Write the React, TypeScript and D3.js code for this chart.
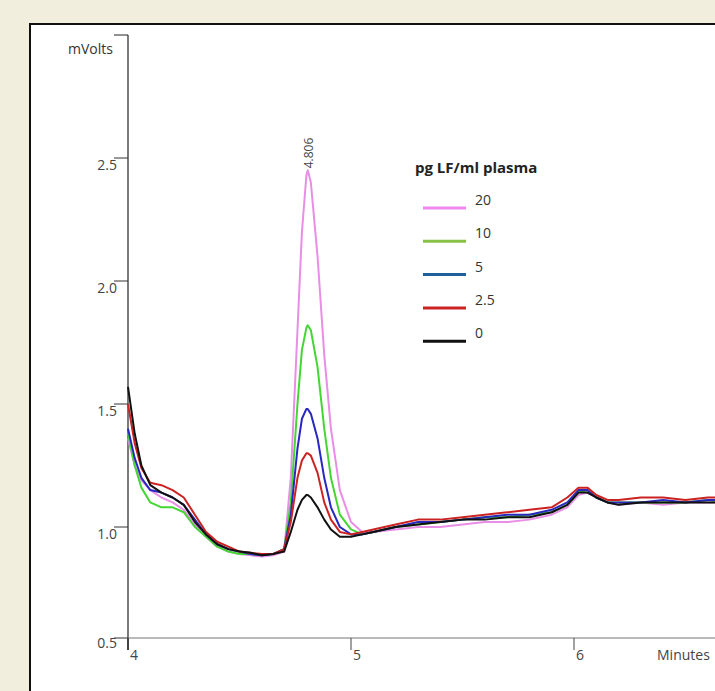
import * as d3 from 'd3';

// Chromatogram traces (minutes vs mVolts)
const times = [4.0, 4.03, 4.06, 4.1, 4.15, 4.2, 4.25, 4.3, 4.35, 4.4, 4.45, 4.5, 4.55, 4.6, 4.65, 4.7, 4.73, 4.76, 4.78, 4.8, 4.806, 4.82, 4.85, 4.88, 4.91, 4.95, 5.0, 5.05, 5.1, 5.2, 5.3, 5.4, 5.5, 5.6, 5.7, 5.8, 5.9, 5.97, 6.02, 6.06, 6.1, 6.15, 6.2, 6.3, 6.4, 6.5, 6.6, 6.7];

const pink20 = [1.36, 1.25, 1.19, 1.15, 1.12, 1.1, 1.07, 1.01, 0.96, 0.92, 0.9, 0.89, 0.885, 0.88, 0.885, 0.9, 1.2, 1.8, 2.2, 2.43, 2.45, 2.4, 2.1, 1.7, 1.4, 1.15, 1.02, 0.98, 0.98, 0.99, 1.0, 1.0, 1.01, 1.02, 1.02, 1.03, 1.05, 1.08, 1.13, 1.14, 1.12, 1.1, 1.09, 1.1, 1.09, 1.1, 1.1, 1.1];
const green10 = [1.38, 1.25, 1.16, 1.1, 1.08, 1.08, 1.06, 1.0, 0.96, 0.92, 0.9, 0.89, 0.89, 0.885, 0.89, 0.91, 1.1, 1.5, 1.72, 1.81, 1.82, 1.8, 1.65, 1.4, 1.2, 1.05, 0.99, 0.97, 0.98, 1.0, 1.01, 1.02, 1.03, 1.04, 1.04, 1.05, 1.06, 1.09, 1.14, 1.15, 1.12, 1.1, 1.1, 1.1, 1.1, 1.1, 1.11, 1.1];
const blue5 = [1.4, 1.28, 1.2, 1.15, 1.14, 1.12, 1.09, 1.03, 0.97, 0.93, 0.91, 0.9, 0.89, 0.885, 0.89, 0.91, 1.05, 1.32, 1.44, 1.48, 1.48, 1.46, 1.36, 1.2, 1.08, 1.0, 0.97, 0.97, 0.98, 1.0, 1.02, 1.02, 1.03, 1.04, 1.05, 1.05, 1.07, 1.1, 1.15, 1.15, 1.12, 1.1, 1.1, 1.1, 1.11, 1.1, 1.11, 1.11];
const red25 = [1.5, 1.34, 1.24, 1.18, 1.17, 1.15, 1.12, 1.05, 0.98, 0.94, 0.92, 0.9, 0.895, 0.89, 0.89, 0.91, 1.02, 1.2, 1.27, 1.3, 1.3, 1.29, 1.22, 1.1, 1.03, 0.98, 0.97, 0.98, 0.99, 1.01, 1.03, 1.03, 1.04, 1.05, 1.06, 1.07, 1.08, 1.12, 1.16, 1.16, 1.13, 1.11, 1.11, 1.12, 1.12, 1.11, 1.12, 1.12];
const black0 = [1.57, 1.38, 1.25, 1.17, 1.14, 1.12, 1.09, 1.02, 0.97, 0.93, 0.91, 0.9, 0.895, 0.885, 0.89, 0.9, 0.98, 1.07, 1.11, 1.13, 1.13, 1.12, 1.08, 1.03, 0.99, 0.96, 0.96, 0.97, 0.98, 1.0, 1.01, 1.02, 1.03, 1.03, 1.04, 1.04, 1.06, 1.09, 1.14, 1.14, 1.12, 1.1, 1.09, 1.1, 1.1, 1.1, 1.1, 1.1];

const seriesLabels = ['20', '10', '5', '2.5', '0'];
const seriesValues = [pink20, green10, blue5, red25, black0];
const lineColors = ['#e88ee6', '#44d633', '#2828c0', '#cc2222', '#111111'];
const legendColors = ['#ee88ee', '#88c048', '#1f5f9a', '#cc2222', '#111111'];
const yTicks = [1.0, 1.5, 2.0, 2.5];
const xTicks = [4, 5, 6];

const font = "'Open Sans', 'Liberation Sans', sans-serif";

export default function App() {
  const x = d3.scaleLinear().domain([4, 5]).range([128, 351]);
  const y = d3.scaleLinear().domain([1.0, 2.5]).range([527, 158]);
  const axisY = 638;
  const line = d3.line<number>().x((_, i) => x(times[i])).y(d => y(d));
  const drawOrder = [0, 1, 2, 3, 4];

  return (
    <svg width={715} height={691} style={{ position: 'absolute', left: 0, top: 0, fontFamily: font }}>
      <rect x={0} y={0} width={715} height={691} fill="#f2eedd" />
      <rect x={30} y={24} width={700} height={690} fill="#fff" stroke="#111" strokeWidth={2} />
      {/* axes */}
      <line x1={128} x2={128} y1={35} y2={axisY} stroke="#222" strokeWidth={1.2} />
      <line x1={114} x2={128} y1={35} y2={35} stroke="#222" />
      <line x1={128} x2={715} y1={axisY} y2={axisY} stroke="#777" strokeWidth={1.2} />
      <text x={113} y={54} textAnchor="end" fontSize={14} fill="#333">mVolts</text>
      {yTicks.map(t => (
        <g key={t}>
          <line x1={114} x2={128} y1={y(t)} y2={y(t)} stroke="#333" />
          <text x={117} y={y(t) + 12} textAnchor="end" fontSize={14} fill="#444">{t.toFixed(1)}</text>
        </g>
      ))}
      <line x1={114} x2={128} y1={axisY} y2={axisY} stroke="#333" />
      <text x={117} y={axisY + 10} textAnchor="end" fontSize={14} fill="#444">0.5</text>
      {xTicks.map(t => (
        <g key={t}>
          <line x1={x(t)} x2={x(t)} y1={axisY} y2={axisY + 12} stroke="#444" strokeWidth={t === 4 ? 2 : 1} />
          <text x={x(t) + 2} y={axisY + 22} fontSize={14} fill="#444">{t}</text>
        </g>
      ))}
      <text x={657} y={axisY + 22} fontSize={14} fill="#444">Minutes</text>
      {/* traces */}
      {drawOrder.map(i => (
        <path key={i} d={line(seriesValues[i]) || ''} fill="none" stroke={lineColors[i]} strokeWidth={2} strokeLinejoin="round" />
      ))}
      <text transform={`translate(${x(4.806) + 5},${y(2.45) - 2}) rotate(-90)`} fontSize={12} fill="#444">4.806</text>
      {/* legend */}
      <text x={415} y={173} fontSize={15} fontWeight="bold" fill="#222">pg LF/ml plasma</text>
      {seriesLabels.map((s, i) => (
        <g key={s}>
          <line x1={423} x2={466} y1={208 + i * 33.3} y2={208 + i * 33.3} stroke={legendColors[i]} strokeWidth={3} />
          <text x={475} y={205 + i * 33.3} fontSize={14} fill="#333">{s}</text>
        </g>
      ))}
    </svg>
  );
}
